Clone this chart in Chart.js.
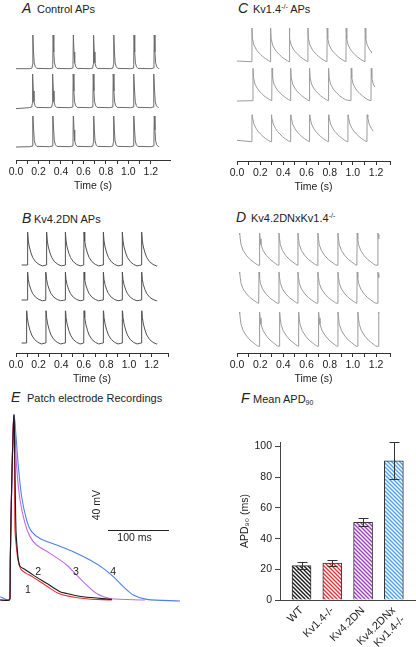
<!DOCTYPE html>
<html>
<head>
<meta charset="utf-8">
<script src="https://cdn.jsdelivr.net/npm/chart.js@4.4.1/dist/chart.umd.min.js"></script>
<style>
  html, body { margin: 0; padding: 0; background: #fff; }
  #fig { position: relative; width: 416px; height: 647px; overflow: hidden;
         font-family: 'Liberation Sans', Arial, sans-serif; color: #222; }
  canvas { position: absolute; }
  .ttl { position: absolute; font-size: 11px; line-height: 14px; white-space: nowrap; }
  .ttl i { display: inline-block; font-size: 14px; }
  .ttl sup { font-size: 7px; vertical-align: 4px; line-height: 0; }
  .ttl sub { font-size: 7px; vertical-align: -2px; line-height: 0; }
</style>
</head>
<body>
<div id="fig">
  <div class="ttl" style="left:22px;top:1px"><i style="width:15px">A</i>Control APs</div>
  <div class="ttl" style="left:238px;top:1px"><i style="width:15px">C</i>Kv1.4<sup>-/-</sup> APs</div>
  <div class="ttl" style="left:22px;top:211px"><i style="width:12px">B</i>Kv4.2DN APs</div>
  <div class="ttl" style="left:236px;top:210px"><i style="width:15px">D</i>Kv4.2DNxKv1.4<sup>-/-</sup></div>
  <div class="ttl" style="left:11px;top:390px"><i style="width:16px">E</i>Patch electrode Recordings</div>
  <div class="ttl" style="left:241px;top:391px"><i style="width:12px">F</i>Mean APD<sub>90</sub></div>

  <canvas id="chartA" width="208" height="195" style="left:0;top:0"></canvas>
  <canvas id="chartC" width="208" height="196" style="left:208px;top:0"></canvas>
  <canvas id="chartB" width="208" height="188" style="left:0;top:200px"></canvas>
  <canvas id="chartD" width="208" height="188" style="left:208px;top:200px"></canvas>
  <canvas id="chartE" width="200" height="210" style="left:0;top:405px"></canvas>
  <canvas id="chartF" width="208" height="217" style="left:208px;top:430px"></canvas>
</div>

<script>
Chart.defaults.font.family = "'Liberation Sans', Arial, sans-serif";
Chart.defaults.font.size = 10.5;
Chart.defaults.color = '#222';
Chart.defaults.animation = false;

// ---------- A-D: AP trains (time in s, voltage in mV) ----------
const timeTicks = ['0.0', '0.2', '0.4', '0.6', '0.8', '1.0', '1.2'];
const BEAT_PEAK = 35;
const BEAT_BASE = -75;

// single beat shape of each genotype, times relative to the peak
const ctrlBeatT = [-0.03, -0.008, -0.003, 0, 0.006, 0.012, 0.022, 0.035];
const ctrlBeatV = [-74, -72, -60, 35, -20, -55, -68, -73];
const kv14BeatT = [-0.002, 0, 0.005, 0.017, 0.035, 0.052, 0.075, 0.095, 0.12, 0.145];
const kv14BeatV = [-74, 35, 0, -20, -33, -42, -51, -58, -65, -71];
const dnBeatT = [-0.003, 0, 0.006, 0.015, 0.03, 0.045, 0.07, 0.1, 0.13, 0.155];
const dnBeatV = [-75, 35, 5, -15, -35, -50, -64, -73, -78, -76];
const dnkvBeatT = [-0.003, 0, 0.005, 0.012, 0.03, 0.06, 0.09, 0.12, 0.14, 0.155];
const dnkvBeatV = [-76, 35, 15, -5, -25, -43, -56, -65, -71, -75];

// peak times of each sweep
const ctrlPeaks1 = [0.15, 0.33, 0.51, 0.69, 0.87, 1.05, 1.23];
const ctrlPeaks2 = [0.148, 0.326, 0.509, 0.687, 0.865, 1.049, 1.227];
const ctrlPeaks3 = [0.151, 0.329, 0.51, 0.691, 0.869, 1.049, 1.23];
const kv14Peaks1 = [0.129, 0.29, 0.451, 0.612, 0.778, 0.942, 1.106];
const kv14Peaks2 = [0.138, 0.302, 0.463, 0.626, 0.79, 0.985, 1.158];
const kv14Peaks3 = [0.129, 0.296, 0.463, 0.626, 0.79, 0.957, 1.123];
const dnPeaks1 = [0.103, 0.271, 0.437, 0.602, 0.773, 0.941, 1.112];
const dnPeaks2 = [0.103, 0.265, 0.437, 0.602, 0.773, 0.941, 1.112];
const dnPeaks3 = [0.094, 0.265, 0.437, 0.602, 0.773, 0.941, 1.112];
const dnkvPeaks1 = [0.023, 0.195, 0.362, 0.526, 0.698, 0.871, 1.037, 1.216];
const dnkvPeaks2 = [0.023, 0.19, 0.362, 0.526, 0.698, 0.871, 1.037, 1.216];
const dnkvPeaks3 = [0.023, 0.195, 0.368, 0.532, 0.704, 0.871, 1.043, 1.221];

// sweep start/end times and the voltage at those ends
const ctrlSpans = [[0, 1.27], [0, 1.27], [0, 1.27]];
const ctrlEnds = [[-74, -74], [-77, -74], [-75, -74]];
const kv14Spans = [[0, 1.16], [0, 1.19], [0, 1.175]];
const kv14Ends = [[-72, -45], [-75, -30], [-70, -42]];
const dnSpans = [[0.05, 1.25], [0.05, 1.25], [0.05, 1.25]];
const dnEnds = [[-75, -77], [-75, -77], [-75, -77]];
const dnkvSpans = [[0.02, 1.225], [0.02, 1.225], [0.02, 1.225]];
const dnkvEnds = [[30, 30], [30, 30], [30, 30]];

function beatTrain(peaks, beatT, beatV, span, ends) {
  const pts = [{x: span[0], y: ends[0]}];
  peaks.forEach(p => {
    beatT.forEach((dt, i) => {
      const t = p + dt;
      if (t > span[0] && t < span[1]) pts.push({x: t, y: beatV[i]});
    });
  });
  pts.push({x: span[1], y: ends[1]});
  return pts.sort((a, b) => a.x - b.x);
}

// axis range of a row so its peak and baseline land where the sweep sits
function rowRange(bandTop, bandBot, peakPx, basePx) {
  const k = (BEAT_PEAK - BEAT_BASE) / (basePx - peakPx);
  return {min: BEAT_BASE - k * (bandBot - basePx), max: BEAT_PEAK + k * (peakPx - bandTop)};
}

function traceChart(id, sweeps, color, lay) {
  const canvas = document.getElementById(id);
  const top = lay.top, bottom = lay.axis;
  const band = (bottom - top) / 3;
  const scales = {
    x: {
      type: 'linear', min: 0, max: lay.xMax,
      afterFit: s => { s.height = 35; },
      border: {color: '#333', width: 1},
      grid: {drawOnChartArea: false, tickLength: 4, color: '#333'},
      ticks: {
        stepSize: 0.1, maxTicksLimit: 30, autoSkip: false, maxRotation: 0, padding: 2,
        callback: v => { const i = Math.round(v * 10); return i % 2 ? '' : timeTicks[i / 2]; }
      },
      title: {display: true, text: 'Time (s)', padding: {top: 0, bottom: 3}}
    }
  };
  sweeps.forEach((s, r) => {
    const bt = top + band * r;
    const rng = rowRange(bt, bt + band, lay.rows[r][0], lay.rows[r][1]);
    scales['y' + r] = {type: 'linear', display: false, stack: 'rows', stackWeight: 1,
                       weight: 3 - r, min: rng.min, max: rng.max};
  });
  new Chart(canvas, {
    type: 'line',
    data: {
      datasets: sweeps.map((s, r) => ({
        data: s, yAxisID: 'y' + r, borderColor: color, borderWidth: 1,
        pointRadius: 0, tension: 0, fill: false
      }))
    },
    options: {
      responsive: false,
      layout: {padding: {left: lay.left, right: lay.right, top: lay.top - lay.canvasTop, bottom: 0}},
      plugins: {legend: {display: false}, tooltip: {enabled: false}},
      scales: scales
    }
  });
}

traceChart('chartA', [
  beatTrain(ctrlPeaks1, ctrlBeatT, ctrlBeatV, ctrlSpans[0], ctrlEnds[0]),
  beatTrain(ctrlPeaks2, ctrlBeatT, ctrlBeatV, ctrlSpans[1], ctrlEnds[1]),
  beatTrain(ctrlPeaks3, ctrlBeatT, ctrlBeatV, ctrlSpans[2], ctrlEnds[2])
], '#6a6a6a', {left: 16, right: 38, top: 28, canvasTop: 0, axis: 160, xMax: 1.37,
               rows: [[35, 69], [74, 108], [113, 147]]});

traceChart('chartC', [
  beatTrain(kv14Peaks1, kv14BeatT, kv14BeatV, kv14Spans[0], kv14Ends[0]),
  beatTrain(kv14Peaks2, kv14BeatT, kv14BeatV, kv14Spans[1], kv14Ends[1]),
  beatTrain(kv14Peaks3, kv14BeatT, kv14BeatV, kv14Spans[2], kv14Ends[2])
], '#9c9c9c', {left: 29, right: 26, top: 22, canvasTop: 0, axis: 161, xMax: 1.32,
               rows: [[28, 62], [67, 101], [106, 142]]});

traceChart('chartB', [
  beatTrain(dnPeaks1, dnBeatT, dnBeatV, dnSpans[0], dnEnds[0]),
  beatTrain(dnPeaks2, dnBeatT, dnBeatV, dnSpans[1], dnEnds[1]),
  beatTrain(dnPeaks3, dnBeatT, dnBeatV, dnSpans[2], dnEnds[2])
], '#505050', {left: 16, right: 40, top: 226, canvasTop: 200, axis: 353, xMax: 1.345,
               rows: [[232, 265], [272, 300], [308, 343]]});

traceChart('chartD', [
  beatTrain(dnkvPeaks1, dnkvBeatT, dnkvBeatV, dnkvSpans[0], dnkvEnds[0]),
  beatTrain(dnkvPeaks2, dnkvBeatT, dnkvBeatV, dnkvSpans[1], dnkvEnds[1]),
  beatTrain(dnkvPeaks3, dnkvBeatT, dnkvBeatV, dnkvSpans[2], dnkvEnds[2])
], '#9a9a9a', {left: 29, right: 26, top: 226, canvasTop: 200, axis: 353, xMax: 1.32,
               rows: [[233, 265], [272, 303], [312, 346]]});

// ---------- E: patch electrode recordings (ms, mV) ----------
const wtT = [-16, -1, 0, 0.5, 3, 6.5, 8, 9.8, 12, 13.7, 16.4, 24.6, 38.3, 60, 82, 93, 120, 167];
const wtV = [-75, -75, -72, -50, 0, 40, 10, -31.5, -44, -50, -54, -56, -59.5, -64.6, -69.8, -70.9, -73, -74.6];
const kv14T = [-16, -1, 0, 0.5, 3, 6, 7.5, 8.2, 11, 13.7, 19.1, 38.3, 60, 82, 120, 167];
const kv14V = [-75, -75, -72, -50, 0, 38, 10, -31.5, -44, -51, -56.4, -60.9, -66.3, -71.3, -74, -75];
const dnT = [-16, -1, 0, 0.5, 3, 6.6, 10.9, 16.4, 24.6, 32.8, 43.7, 65.6, 92.9, 109.3, 125.7, 142.1, 163.9, 221.3];
const dnV = [-75, -75, -72, -50, 0, 40, 7.9, -12.8, -27.3, -35.6, -40.8, -46, -53.2, -59.5, -65.7, -70.9, -74, -75];
const dnkvT = [-16, -3, 0, 0.5, 3, 6.6, 13.7, 19.1, 27.3, 35.5, 49.2, 76.5, 103.8, 131.1, 153, 169.4, 185.8, 202.2, 224, 278.7];
const dnkvV = [-73, -75, -72, -50, 0, 39, 7.9, -10.8, -25.3, -32.5, -36.7, -40.8, -45, -50.1, -55.3, -60.5, -66.7, -71.9, -74.6, -75.6];

const traceNames = ['1', '2', '3', '4'];
const traceLabelMs = [29.5, 46, 108, 169];
const traceLabelMv = [-68.8, -57.6, -57.6, -57.4];
const scaleBarMs = [160.7, 260.7];
const scaleBarMv = -31.5;
const mvLabelAt = [142.6, -16];

const toXY = (t, v) => t.map((x, i) => ({x: x, y: v[i]}));

const eAnnotations = {
  id: 'eAnnotations',
  afterDatasetsDraw(chart) {
    const {ctx, scales: {x, y}} = chart;
    ctx.save();
    ctx.fillStyle = '#222';
    ctx.font = "10.5px 'Liberation Sans', Arial, sans-serif";
    ctx.textAlign = 'center';
    ctx.textBaseline = 'middle';
    traceNames.forEach((s, i) => {
      ctx.fillText(s, x.getPixelForValue(traceLabelMs[i]), y.getPixelForValue(traceLabelMv[i]));
    });
    const x0 = x.getPixelForValue(scaleBarMs[0]);
    const x1 = x.getPixelForValue(scaleBarMs[1]);
    const yb = Math.round(y.getPixelForValue(scaleBarMv)) + 0.5;
    ctx.strokeStyle = '#222';
    ctx.lineWidth = 1;
    ctx.beginPath();
    ctx.moveTo(x0, yb);
    ctx.lineTo(x1, yb);
    ctx.stroke();
    ctx.fillText('100 ms', (x0 + x1) / 2 - 4, yb + 8);
    ctx.translate(x.getPixelForValue(mvLabelAt[0]), y.getPixelForValue(mvLabelAt[1]));
    ctx.rotate(-Math.PI / 2);
    ctx.fillText('40 mV', 0, 0);
    ctx.restore();
  }
};

new Chart(document.getElementById('chartE'), {
  type: 'line',
  data: {
    datasets: [
      {label: 'WT', data: toXY(wtT, wtV), borderColor: '#1a1a1a'},
      {label: 'Kv1.4-/-', data: toXY(kv14T, kv14V), borderColor: '#ee2a36'},
      {label: 'Kv4.2DN', data: toXY(dnT, dnV), borderColor: '#c46ae8'},
      {label: 'Kv4.2DNxKv1.4-/-', data: toXY(dnkvT, dnkvV), borderColor: '#4f7ff0'}
    ]
  },
  options: {
    responsive: false,
    datasets: {line: {borderWidth: 1.1, pointRadius: 0, tension: 0.3, fill: false}},
    layout: {padding: 0},
    plugins: {legend: {display: false}, tooltip: {enabled: false}},
    scales: {
      x: {type: 'linear', display: false, min: -16.4, max: 311.5},
      y: {type: 'linear', display: false, min: -84.3, max: 46.2}
    }
  },
  plugins: [eAnnotations]
});

// ---------- F: mean APD90 ----------
const apdGroups = ['WT', 'Kv1.4-/-', 'Kv4.2DN', ['Kv4.2DNx', 'Kv1.4-/-']];
const apdMean = [22.4, 24.0, 50.7, 90.8];
const apdSem = [2.1, 2.0, 2.6, 12.0];
const apdColors = ['#1a1a1a', '#e8323a', '#a23cc4', '#4aa2f0'];

function hatch(color) {
  const tile = document.createElement('canvas');
  tile.width = 4;
  tile.height = 4;
  const g = tile.getContext('2d');
  g.fillStyle = '#fff';
  g.fillRect(0, 0, 4, 4);
  g.strokeStyle = color;
  g.lineWidth = 1.4;
  g.beginPath();
  g.moveTo(-1, -1); g.lineTo(5, 5);
  g.moveTo(-1, 3); g.lineTo(1, 5);
  g.moveTo(3, -1); g.lineTo(5, 1);
  g.stroke();
  return g.createPattern(tile, 'repeat');
}

const errorBars = {
  id: 'errorBars',
  afterDatasetsDraw(chart) {
    const {ctx, scales: {x, y}} = chart;
    ctx.save();
    ctx.strokeStyle = '#333';
    ctx.lineWidth = 1;
    apdMean.forEach((m, i) => {
      const cx = Math.round(x.getPixelForValue(i)) + 0.5;
      const top = Math.round(y.getPixelForValue(m + apdSem[i])) + 0.5;
      const bot = Math.round(y.getPixelForValue(m - apdSem[i])) + 0.5;
      ctx.beginPath();
      ctx.moveTo(cx, top); ctx.lineTo(cx, bot);
      ctx.moveTo(cx - 5, top); ctx.lineTo(cx + 5, top);
      ctx.moveTo(cx - 5, bot); ctx.lineTo(cx + 5, bot);
      ctx.stroke();
    });
    ctx.restore();
  }
};

new Chart(document.getElementById('chartF'), {
  type: 'bar',
  data: {
    datasets: [{
      data: apdMean.map((v, i) => ({x: i, y: v})),
      backgroundColor: apdColors.map(hatch),
      borderColor: '#333',
      borderWidth: 1,
      barThickness: 19
    }]
  },
  options: {
    responsive: false,
    layout: {padding: {left: 27, right: 0, top: 12, bottom: 0}},
    plugins: {legend: {display: false}, tooltip: {enabled: false}},
    scales: {
      x: {
        type: 'linear', min: -0.7, max: 3.72, offset: false,
        afterFit: s => { s.height = 47; s.paddingLeft = 0; s.paddingRight = 0; },
        border: {color: '#444', width: 1},
        grid: {display: false, drawTicks: false, offset: false},
        ticks: {stepSize: 1, includeBounds: false, autoSkip: false, minRotation: 45, maxRotation: 45,
                padding: 4, font: {size: 11}, callback: v => apdGroups[v]}
      },
      y: {
        min: 0, max: 103,
        afterFit: s => { s.width = 45; },
        border: {color: '#444', width: 1},
        grid: {drawOnChartArea: false, tickLength: 5, color: '#444'},
        ticks: {stepSize: 20, includeBounds: false, padding: 3},
        title: {display: true, text: 'APD₉₀ (ms)'}
      }
    }
  },
  plugins: [errorBars]
});
</script>
</body>
</html>
